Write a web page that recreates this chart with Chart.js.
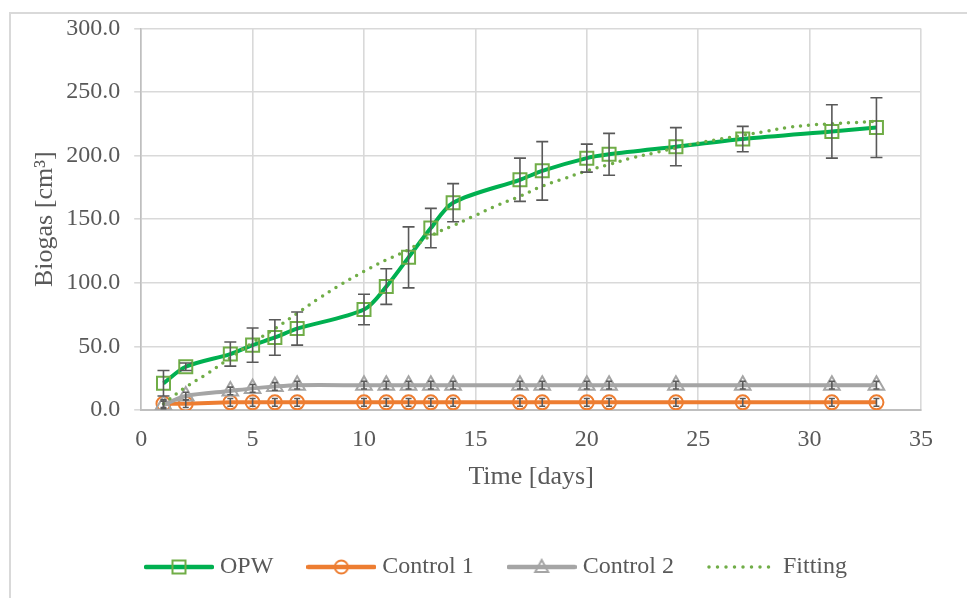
<!DOCTYPE html>
<html>
<head>
<meta charset="utf-8">
<script src="https://cdn.jsdelivr.net/npm/chart.js@4.4.1/dist/chart.umd.min.js"></script>
<style>
    html, body { margin: 0; padding: 0; background: #fff; overflow: hidden; }
    #wrap { position: relative; width: 967px; height: 598px; }
    #cornice { position: absolute; left: 9px; top: 12px; width: 1000px; height: 700px; border: 2px solid #d9d9d9; }
    #grafico { position: absolute; left: 0; top: 0; }
</style>
</head>
<body>
<div id="wrap">
    <div id="cornice"></div>
    <canvas id="grafico" width="967" height="598"></canvas>
</div>
<script>
// giorni di campionamento
const giorni = [1, 2, 4, 5, 6, 7, 10, 11, 12, 13, 14, 17, 18, 20, 21, 24, 27, 31, 33]

const opw = [21, 34, 44, 51, 57, 64, 79, 97, 120, 143, 163, 181, 188, 198, 201, 207, 213, 219, 222]
const opwErr = [10, 3, 9.5, 13.5, 14, 13, 12, 14, 24, 15.5, 15, 17, 23, 11, 16.5, 15, 10, 21, 23.5]

const control1 = [5, 5, 6, 6, 6, 6, 6, 6, 6, 6, 6, 6, 6, 6, 6, 6, 6, 6, 6]
const control1Err = [3, 3, 3, 3, 3, 3, 3, 3, 3, 3, 3, 3, 3, 3, 3, 3, 3, 3, 3]

const control2 = [4, 11, 15, 17, 18.5, 19.5, 19.5, 19.5, 19.5, 19.5, 19.5, 19.5, 19.5, 19.5, 19.5, 19.5, 19.5, 19.5, 19.5]
const control2Err = [3, 3, 3, 3, 3, 3, 3, 3, 3, 3, 3, 3, 3, 3, 3, 3, 3, 3, 3]

// curva di fitting letta a giorni interi
const giorniFit = [1, 2, 3, 4, 5, 6, 7, 8, 9, 10, 11, 12, 13, 14, 15, 16, 17, 18, 19, 20, 21, 22, 23, 24, 25, 26, 27, 28, 29, 30, 31, 32, 33]
const fitting = [5, 18, 29, 41, 53, 64, 76, 88, 99, 109, 118, 126, 137, 145, 153, 161, 168, 176, 182, 188, 193, 198, 202, 206, 210, 213, 216, 219, 222, 224, 225, 226, 227]

const etichette = ['OPW', 'Control 1', 'Control 2', 'Fitting']

const FONT = '"Liberation Serif", "Times New Roman", serif'
const GRIGIO_TESTO = '#595959'

function punti(xs, ys) {
    return xs.map((x, i) => ({ x: x, y: ys[i] }))
}

// simbolo della legenda: linea + marker
function simbolo(colore, tipo, marker) {
    let c = document.createElement('canvas')
    c.width = 70
    c.height = 18
    let ctx = c.getContext('2d')
    let cy = 9
    ctx.strokeStyle = colore
    ctx.lineCap = 'round'
    if (tipo == 'dotted') {
        ctx.lineWidth = 3.5
        ctx.setLineDash([0, 8.5])
        ctx.beginPath()
        ctx.moveTo(2, cy)
        ctx.lineTo(68, cy)
        ctx.stroke()
        return c
    }
    ctx.lineWidth = 4.5
    ctx.beginPath()
    ctx.moveTo(2, cy)
    ctx.lineTo(68, cy)
    ctx.stroke()
    ctx.lineWidth = 2
    ctx.strokeStyle = marker
    ctx.beginPath()
    if (tipo == 'rect') {
        ctx.rect(35 - 6.5, cy - 6.5, 13, 13)
    } else if (tipo == 'circle') {
        ctx.arc(35, cy, 6.5, 0, Math.PI * 2)
    } else {
        ctx.moveTo(35, cy - 7)
        ctx.lineTo(41.5, cy + 5)
        ctx.lineTo(28.5, cy + 5)
        ctx.closePath()
    }
    ctx.stroke()
    return c
}

const simboli = [
    simbolo('#00B050', 'rect', '#70AD47'),
    simbolo('#ED7D31', 'circle', '#ED7D31'),
    simbolo('#A5A5A5', 'triangle', '#A5A5A5'),
    simbolo('#70AD47', 'dotted')
]

// barre d'errore disegnate sopra le serie
const barreErrore = {
    id: 'barreErrore',
    afterLayout(chart) {
        // la legenda nell'originale è un po' spostata a destra
        if (chart.legend) {
            chart.legend.left += 38
            chart.legend.right += 38
        }
    },
    afterDatasetsDraw(chart) {
        const ctx = chart.ctx
        const sx = chart.scales.x
        const sy = chart.scales.y
        ctx.save()
        ctx.strokeStyle = '#595959'
        ctx.lineWidth = 1.6
        chart.data.datasets.forEach((ds) => {
            if (!ds.errori) return
            let cap = ds.capErrore
            ds.data.forEach((p, i) => {
                let e = ds.errori[i]
                let x = sx.getPixelForValue(p.x)
                let y1 = sy.getPixelForValue(p.y + e)
                let y2 = sy.getPixelForValue(p.y - e)
                ctx.beginPath()
                ctx.moveTo(x, y1)
                ctx.lineTo(x, y2)
                ctx.moveTo(x - cap, y1)
                ctx.lineTo(x + cap, y1)
                ctx.moveTo(x - cap, y2)
                ctx.lineTo(x + cap, y2)
                ctx.stroke()
            })
        })
        ctx.restore()
    }
}

new Chart(document.getElementById('grafico'), {
    type: 'line',
    data: {
        datasets: [
            {
                label: etichette[0],
                data: punti(giorni, opw),
                errori: opwErr,
                capErrore: 6,
                borderColor: '#00B050',
                borderWidth: 4,
                tension: 0.3,
                pointStyle: 'rect',
                pointRadius: 9.2,
                pointBorderWidth: 2,
                pointBorderColor: '#70AD47',
                pointBackgroundColor: 'rgba(0,0,0,0)',
                order: 1
            },
            {
                label: etichette[1],
                data: punti(giorni, control1),
                errori: control1Err,
                capErrore: 3,
                borderColor: '#ED7D31',
                borderWidth: 4,
                tension: 0.3,
                pointStyle: 'circle',
                pointRadius: 7,
                pointBorderWidth: 2,
                pointBorderColor: '#ED7D31',
                pointBackgroundColor: 'rgba(0,0,0,0)',
                order: 3
            },
            {
                label: etichette[2],
                data: punti(giorni, control2),
                errori: control2Err,
                capErrore: 3,
                borderColor: '#A5A5A5',
                borderWidth: 4,
                tension: 0.3,
                pointStyle: 'triangle',
                pointRadius: 9,
                pointBorderWidth: 2,
                pointBorderColor: '#A5A5A5',
                pointBackgroundColor: 'rgba(0,0,0,0)',
                order: 2
            },
            {
                label: etichette[3],
                data: punti(giorniFit, fitting),
                borderColor: '#70AD47',
                borderWidth: 3.5,
                borderDash: [0, 8],
                borderCapStyle: 'round',
                tension: 0.4,
                pointRadius: 0,
                order: 0
            }
        ]
    },
    options: {
        responsive: false,
        animation: false,
        devicePixelRatio: 1,
        layout: {
            padding: { top: 22, right: 46, bottom: 9, left: 0 }
        },
        plugins: {
            tooltip: { enabled: false },
            legend: {
                position: 'bottom',
                labels: {
                    usePointStyle: true,
                    pointStyleWidth: 58,
                    padding: 39,
                    color: GRIGIO_TESTO,
                    font: { family: FONT, size: 24 },
                    sort: (a, b) => a.datasetIndex - b.datasetIndex,
                    generateLabels: (chart) => {
                        let lista = Chart.defaults.plugins.legend.labels.generateLabels(chart)
                        lista.forEach((item) => {
                            item.pointStyle = simboli[item.datasetIndex]
                        })
                        return lista
                    }
                }
            }
        },
        scales: {
            x: {
                type: 'linear',
                min: 0,
                max: 35,
                ticks: {
                    stepSize: 5,
                    padding: 15,
                    color: GRIGIO_TESTO,
                    font: { family: FONT, size: 24 }
                },
                grid: {
                    color: '#d9d9d9',
                    lineWidth: 1.6,
                    drawTicks: false
                },
                border: { color: '#bfbfbf', width: 2 },
                title: {
                    display: true,
                    text: 'Time [days]',
                    color: GRIGIO_TESTO,
                    font: { family: FONT, size: 26 },
                    padding: { top: -7, bottom: 23 }
                }
            },
            y: {
                min: 0,
                max: 300,
                ticks: {
                    stepSize: 50,
                    padding: 14,
                    color: GRIGIO_TESTO,
                    font: { family: FONT, size: 24 },
                    callback: (v) => v.toFixed(1)
                },
                grid: {
                    color: '#d9d9d9',
                    lineWidth: 1.6,
                    tickLength: 7
                },
                border: { color: '#bfbfbf', width: 1.6 },
                title: {
                    display: true,
                    text: 'Biogas [cm³]',
                    color: GRIGIO_TESTO,
                    font: { family: FONT, size: 26 },
                    padding: { top: 30, bottom: -9 }
                }
            }
        }
    },
    plugins: [barreErrore]
})
</script>
</body>
</html>
